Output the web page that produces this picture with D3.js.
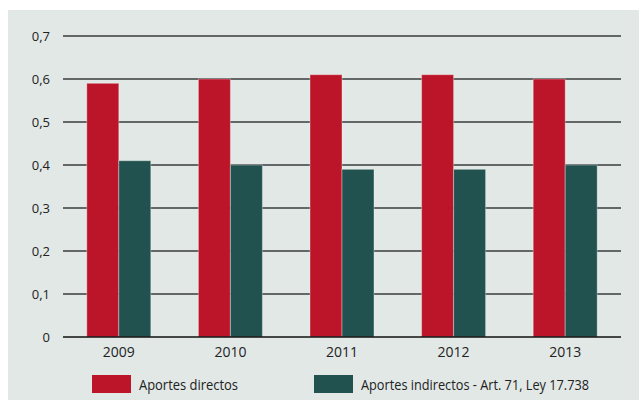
<!DOCTYPE html>
<html>
<head>
<meta charset="utf-8">
<script src="https://cdn.jsdelivr.net/npm/d3@7"></script>
<style>
  body { margin: 0; background: #fff; }
  text { font-family: "Open Sans", sans-serif; fill: #222; }
</style>
</head>
<body>
<script>
var years = ["2009", "2010", "2011", "2012", "2013"];
var directos = [0.59, 0.60, 0.61, 0.61, 0.60];
var indirectos = [0.41, 0.40, 0.39, 0.39, 0.40];
var seriesNames = ["Aportes directos", "Aportes indirectos - Art. 71, Ley 17.738"];
var seriesColors = ["#bc1428", "#22524f"];
var yTicks = [0, 0.1, 0.2, 0.3, 0.4, 0.5, 0.6, 0.7];

var width = 639, height = 401;

var svg = d3.select("body").append("svg")
  .attr("width", width)
  .attr("height", height);

svg.append("rect")
  .attr("x", 8).attr("y", 10)
  .attr("width", 631).attr("height", 390)
  .attr("fill", "#e1e8e6");

var x0 = d3.scaleBand()
  .domain(years)
  .range([63, 621])
  .padding(0);

var x1 = d3.scaleBand()
  .domain([0, 1])
  .range([0, x0.bandwidth()])
  .paddingInner(0)
  .paddingOuter(0.744);

var y = d3.scaleLinear()
  .domain([0, 0.7])
  .range([337, 36]);

// gridlines
svg.append("g").selectAll("line")
  .data(yTicks.slice(1))
  .enter().append("line")
  .attr("x1", 63).attr("x2", 621)
  .attr("y1", function(d) { return y(d); })
  .attr("y2", function(d) { return y(d); })
  .attr("stroke", "#3a3d3d")
  .attr("stroke-width", 1.5);

// y labels
svg.append("g").selectAll("text")
  .data(yTicks)
  .enter().append("text")
  .attr("x", 50)
  .attr("y", function(d) { return y(d); })
  .attr("dy", "0.35em")
  .attr("text-anchor", "end")
  .style("font-size", "13px")
  .text(function(d) { return d === 0 ? "0" : d3.format(".1f")(d).replace(".", ","); });

var rows = years.map(function(yr, i) { return {year: yr, values: [directos[i], indirectos[i]]}; });

var groups = svg.append("g").selectAll("g")
  .data(rows)
  .enter().append("g")
  .attr("transform", function(d) { return "translate(" + x0(d.year) + ",0)"; });

groups.selectAll("rect")
  .data(function(d) { return d.values.map(function(v, k) { return {k: k, v: v}; }); })
  .enter().append("rect")
  .attr("x", function(d) { return x1(d.k); })
  .attr("width", x1.bandwidth())
  .attr("y", function(d) { return y(d.v); })
  .attr("height", function(d) { return y(0) - y(d.v); })
  .attr("fill", function(d) { return seriesColors[d.k]; })
  .attr("stroke", "rgba(255,255,255,0.35)")
  .attr("stroke-width", 1);

// baseline
svg.append("line")
  .attr("x1", 63).attr("x2", 621)
  .attr("y1", y(0)).attr("y2", y(0))
  .attr("stroke", "#111")
  .attr("stroke-width", 1.5);

// year labels
svg.append("g").selectAll("text")
  .data(years)
  .enter().append("text")
  .attr("x", function(d) { return x0(d) + x0.bandwidth() / 2; })
  .attr("y", 357)
  .attr("text-anchor", "middle")
  .style("font-size", "14px")
  .text(function(d) { return d; });

// legend
var legendX = [92, 314];
var legendW = [99, 228];
var legend = svg.append("g").selectAll("g")
  .data(seriesNames)
  .enter().append("g")
  .attr("transform", function(d, i) { return "translate(" + legendX[i] + ",375)"; });

legend.append("rect")
  .attr("width", 39)
  .attr("height", 18)
  .attr("fill", function(d, i) { return seriesColors[i]; });

legend.append("text")
  .attr("x", 47)
  .attr("y", 15)
  .attr("textLength", function(d, i) { return legendW[i]; })
  .attr("lengthAdjust", "spacingAndGlyphs")
  .style("font-size", "15px")
  .text(function(d) { return d; });
</script>
</body>
</html>
